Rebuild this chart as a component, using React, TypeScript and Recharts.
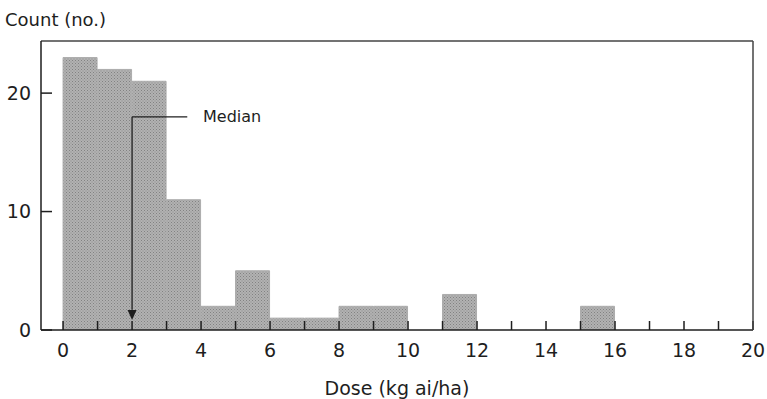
import { ComposedChart, Bar, XAxis, YAxis, ReferenceLine, ReferenceDot } from 'recharts';

// histogram bins: [start, start + 1)
const BIN_STARTS = [0, 1, 2, 3, 4, 5, 6, 7, 8, 9, 10, 11, 12, 13, 14, 15, 16, 17, 18, 19];
const COUNTS = [23, 22, 21, 11, 2, 5, 1, 1, 2, 2, 0, 3, 0, 0, 0, 2, 0, 0, 0, 0];

const X_TICKS = [0, 1, 2, 3, 4, 5, 6, 7, 8, 9, 10, 11, 12, 13, 14, 15, 16, 17, 18, 19, 20];
const Y_TICKS = [0, 10, 20];

const MEDIAN = 2;

const data = BIN_STARTS.map((s, i) => ({ mid: s + 0.5, count: COUNTS[i] }));

const FONT = '"DejaVu Sans", sans-serif';
const INK = '#1e1e1e';

function Arrowhead(props: any) {
  const { cx, cy } = props;
  if (cx == null || cy == null) return null;
  return <path d={`M${cx - 4.5},${cy - 10} L${cx + 4.5},${cy - 10} L${cx},${cy} Z`} fill={INK} />;
}

export default function App() {
  return (
    <div style={{ position: 'absolute', left: 0, top: 0, width: 767, height: 399, background: '#fff' }}>
      <div style={{ position: 'absolute', left: 5, top: 9, fontFamily: FONT, fontSize: 18, color: INK }}>
        Count (no.)
      </div>
      <ComposedChart
        width={767}
        height={399}
        data={data}
        margin={{ top: 40, right: 13, bottom: 38, left: 0 }}
        barCategoryGap={0}
        barGap={0}
      >
        <defs>
          <pattern id="stipple" width="3" height="3" patternUnits="userSpaceOnUse">
            <rect width="3" height="3" fill="#b2b2b2" />
            <rect x="0" y="0" width="1" height="1" fill="#828282" />
            <rect x="1.5" y="1.5" width="1" height="1" fill="#8c8c8c" />
          </pattern>
        </defs>
        <XAxis
          type="number"
          dataKey="mid"
          domain={[-0.64, 20]}
          ticks={X_TICKS}
          interval={0}
          allowDataOverflow
          height={31}
          tickSize={-9}
          tickMargin={23}
          tickFormatter={(v: number) => (v % 2 === 0 ? String(v) : '')}
          tick={{ fill: INK, fontSize: 19, fontFamily: FONT }}
          tickLine={{ stroke: INK, strokeWidth: 1.5 }}
          axisLine={{ stroke: INK, strokeWidth: 1.5 }}
          label={{ value: 'Dose (kg ai/ha)', position: 'bottom', offset: 21, fill: INK, fontSize: 19, fontFamily: FONT }}
        />
        <XAxis
          xAxisId="top"
          orientation="top"
          type="number"
          domain={[-0.64, 20]}
          height={1}
          tick={false}
          tickLine={false}
          axisLine={{ stroke: '#444', strokeWidth: 1.5 }}
        />
        <YAxis
          type="number"
          domain={[0, 24.4]}
          ticks={Y_TICKS}
          allowDataOverflow
          width={41}
          tickSize={-11}
          tickMargin={21}
          tick={{ fill: INK, fontSize: 19, fontFamily: FONT }}
          tickLine={{ stroke: INK, strokeWidth: 1.5 }}
          axisLine={{ stroke: INK, strokeWidth: 1.5 }}
        />
        <YAxis
          yAxisId="right"
          orientation="right"
          type="number"
          domain={[0, 24.4]}
          width={1}
          tick={false}
          tickLine={false}
          axisLine={{ stroke: '#444', strokeWidth: 1.5 }}
        />
        <Bar dataKey="count" fill="url(#stipple)" stroke="#acacac" strokeWidth={1} isAnimationActive={false} />
        <ReferenceLine
          segment={[{ x: MEDIAN, y: 18 }, { x: 3.6, y: 18 }]}
          stroke={INK}
          strokeWidth={1.3}
        />
        <ReferenceLine
          segment={[{ x: MEDIAN, y: 18 }, { x: MEDIAN, y: 1.7 }]}
          stroke={INK}
          strokeWidth={1.3}
        />
        <ReferenceDot x={MEDIAN} y={0.85} r={0} shape={<Arrowhead />} />
        <ReferenceDot
          x={4.9}
          y={18}
          r={0}
          fill="none"
          stroke="none"
          label={{ value: 'Median', position: 'center', fill: INK, fontSize: 16, fontFamily: FONT }}
        />
      </ComposedChart>
    </div>
  );
}
